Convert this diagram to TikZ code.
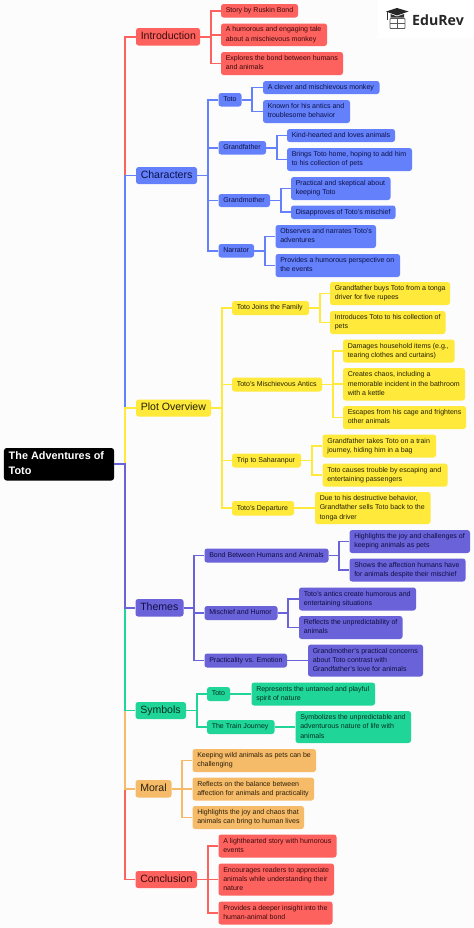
\documentclass[tikz,border=0pt]{standalone}
\usepackage{fontspec}
\setmainfont{Liberation Sans}
\newfontfamily\logofont{Open Sans}
\definecolor{cRed}{HTML}{FD625E}
\definecolor{cBlue}{HTML}{6480FB}
\definecolor{cYel}{HTML}{FFE93B}
\definecolor{cPur}{HTML}{6A62D8}
\definecolor{cGrn}{HTML}{1FD698}
\definecolor{cOra}{HTML}{F6BB68}
\definecolor{tRed}{HTML}{3A0A0C}
\definecolor{tBlue}{HTML}{0C1247}
\definecolor{tYel}{HTML}{222005}
\definecolor{tPur}{HTML}{100E42}
\definecolor{tGrn}{HTML}{042E22}
\definecolor{tOra}{HTML}{2A1F0B}
\tikzset{
  boxbase/.style={rounded corners=2.6bp,inner sep=0pt,anchor=center},
  rootbox/.style={boxbase,fill=black,text=white,font=\bfseries\fontsize{10.9}{15.2}\selectfont},
  catfont/.style={font=\fontsize{10.6}{14}\selectfont},
  subfont/.style={font=\fontsize{7.05}{9.3}\selectfont},
  redbox/.style={boxbase,fill=cRed,text=tRed},
  bluebox/.style={boxbase,fill=cBlue,text=tBlue},
  yelbox/.style={boxbase,fill=cYel,text=tYel},
  purbox/.style={boxbase,fill=cPur,text=tPur},
  grnbox/.style={boxbase,fill=cGrn,text=tGrn},
  orabox/.style={boxbase,fill=cOra,text=tOra},
  link/.style={line width=1.6bp,line join=miter},
}
% name, style, x0, y0, x1, y1, text
\newcommand\bx[7]{%
  \pgfmathsetmacro{\bxcx}{(#3+#5)/2}%
  \pgfmathsetmacro{\bxcy}{(#4+#6)/2}%
  \pgfmathsetmacro{\bxw}{#5-#3}%
  \pgfmathsetmacro{\bxh}{#6-#4}%
  \pgfmathsetmacro{\bxtw}{#5-#3-9.5}%
  \node[#2,minimum width=\bxw bp,minimum height=\bxh bp] (#1) at (\bxcx,\bxcy)
    {\makebox[\bxtw bp][l]{\begin{tabular}{@{}l@{}}#7\end{tabular}}};%
}
\newcommand\lnk[3]{\draw[link,#1] (#2.east) -- ++(10.5,0) |- (#3.west);}
\begin{document}
\begin{tikzpicture}[x=1bp,y=-1bp]
\useasboundingbox (0,0) rectangle (474,928);
\fill[white!99!black] (0,0) rectangle (474,928);
\fill[white] (378,0) rectangle (474,38);
% root
\bx{root}{rootbox}{4}{448}{114}{480.5}{The Adventures of\\Toto}
% categories
\bx{intro}{redbox,catfont}{136}{28}{200}{45.5}{Introduction}
\bx{chars}{bluebox,catfont}{136}{167}{197}{184}{Characters}
\bx{plot}{yelbox,catfont}{136}{399.5}{211}{416.5}{Plot Overview}
\bx{themes}{purbox,catfont}{135.5}{599}{183.5}{616.5}{Themes}
\bx{symb}{grnbox,catfont}{135.5}{702}{186}{719}{Symbols}
\bx{moral}{orabox,catfont}{135.5}{780}{171.5}{797.5}{Moral}
\bx{concl}{redbox,catfont}{135.5}{871}{197}{888}{Conclusion}
% introduction
\bx{i1}{redbox,subfont}{221}{4}{298}{17.5}{Story by Ruskin Bond}
\bx{i2}{redbox,subfont}{221}{23.5}{327}{46}{A humorous and engaging tale\\about a mischievous monkey}
\bx{i3}{redbox,subfont}{221}{52}{343}{75}{Explores the bond between humans\\and animals}
% characters
\bx{ca}{bluebox,subfont}{218.5}{93}{241.5}{106.5}{Toto}
\bx{cb}{bluebox,subfont}{218.5}{141}{266}{154.5}{Grandfather}
\bx{cc}{bluebox,subfont}{218.5}{194}{270}{207}{Grandmother}
\bx{cd}{bluebox,subfont}{218.5}{244}{254}{257.5}{Narrator}
\bx{c1}{bluebox,subfont}{263}{81}{379.5}{94}{A clever and mischievous monkey}
\bx{c2}{bluebox,subfont}{263}{100}{350}{123}{Known for his antics and\\troublesome behavior}
\bx{c3}{bluebox,subfont}{287}{129}{395}{142}{Kind-hearted and loves animals}
\bx{c4}{bluebox,subfont}{287}{148}{412}{171}{Brings Toto home, hoping to add him\\to his collection of pets}
\bx{c5}{bluebox,subfont}{291}{177}{390.5}{200}{Practical and skeptical about\\keeping Toto}
\bx{c6}{bluebox,subfont}{291}{205.5}{395.5}{219}{Disapproves of Toto's mischief}
\bx{c7}{bluebox,subfont}{275.5}{225}{376}{248}{Observes and narrates Toto's\\adventures}
\bx{c8}{bluebox,subfont}{275.5}{254}{400}{277}{Provides a humorous perspective on\\the events}
% plot
\bx{pa}{yelbox,subfont}{232}{301}{309}{315}{Toto Joins the Family}
\bx{pb}{yelbox,subfont}{232}{377.5}{322}{391.5}{Toto's Mischievous Antics}
\bx{pc}{yelbox,subfont}{232}{453.5}{301}{467.5}{Trip to Saharanpur}
\bx{pd}{yelbox,subfont}{232}{501}{294}{515.5}{Toto's Departure}
\bx{p1}{yelbox,subfont}{330}{282}{450}{305}{Grandfather buys Toto from a tonga\\driver for five rupees}
\bx{p2}{yelbox,subfont}{330}{311}{445.5}{334}{Introduces Toto to his collection of\\pets}
\bx{p3}{yelbox,subfont}{343}{339.5}{454.5}{362.5}{Damages household items (e.g.,\\tearing clothes and curtains)}
\bx{p4}{yelbox,subfont}{343}{368}{465}{400.5}{Creates chaos, including a\\memorable incident in the bathroom\\with a kettle}
\bx{p5}{yelbox,subfont}{343}{406}{466}{429}{Escapes from his cage and frightens\\other animals}
\bx{p6}{yelbox,subfont}{322.5}{434.5}{436}{457.5}{Grandfather takes Toto on a train\\journey, hiding him in a bag}
\bx{p7}{yelbox,subfont}{322.5}{463.5}{447.5}{486.5}{Toto causes trouble by escaping and\\entertaining passengers}
\bx{p8}{yelbox,subfont}{315}{492}{430.5}{524}{Due to his destructive behavior,\\Grandfather sells Toto back to the\\tonga driver}
% themes
\bx{ta}{purbox,subfont}{204.5}{548.5}{328.5}{562.5}{Bond Between Humans and Animals}
\bx{tb}{purbox,subfont}{204.5}{606}{277.5}{620}{Mischief and Humor}
\bx{tc}{purbox,subfont}{204.5}{653.5}{287}{667.5}{Practicality vs. Emotion}
\bx{t1}{purbox,subfont}{349.5}{530}{470}{553}{Highlights the joy and challenges of\\keeping animals as pets}
\bx{t2}{purbox,subfont}{349.5}{558.5}{465.5}{581.5}{Shows the affection humans have\\for animals despite their mischief}
\bx{t3}{purbox,subfont}{299}{587.5}{416}{610.5}{Toto's antics create humorous and\\entertaining situations}
\bx{t4}{purbox,subfont}{299}{616}{402.5}{639}{Reflects the unpredictability of\\animals}
\bx{t5}{purbox,subfont}{308}{644.5}{423}{676.5}{Grandmother's practical concerns\\about Toto contrast with\\Grandfather's love for animals}
% symbols
\bx{sa}{grnbox,subfont}{207}{687}{230}{701}{Toto}
\bx{sb}{grnbox,subfont}{207}{720}{274.5}{734}{The Train Journey}
\bx{s1}{grnbox,subfont}{251.5}{682.5}{375}{705.5}{Represents the untamed and playful\\spirit of nature}
\bx{s2}{grnbox,subfont}{295.5}{711}{411}{743}{Symbolizes the unpredictable and\\adventurous nature of life with\\animals}
% moral
\bx{m1}{orabox,subfont}{192.5}{749}{316}{772}{Keeping wild animals as pets can be\\challenging}
\bx{m2}{orabox,subfont}{192.5}{777.5}{314}{800.5}{Reflects on the balance between\\affection for animals and practicality}
\bx{m3}{orabox,subfont}{192.5}{806}{304}{829}{Highlights the joy and chaos that\\animals can bring to human lives}
% conclusion
\bx{n1}{redbox,subfont}{218.5}{834.5}{336.5}{857.5}{A lighthearted story with humorous\\events}
\bx{n2}{redbox,subfont}{218.5}{863.5}{334}{895.5}{Encourages readers to appreciate\\animals while understanding their\\nature}
\bx{n3}{redbox,subfont}{218.5}{901.5}{332.5}{924.5}{Provides a deeper insight into the\\human-animal bond}
% trunk: later paths lie over earlier ones
\lnk{cRed}{root}{intro}
\lnk{cBlue}{root}{chars}
\lnk{cYel}{root}{plot}
\lnk{cRed}{root}{concl}
\lnk{cOra}{root}{moral}
\lnk{cGrn}{root}{symb}
\lnk{cPur}{root}{themes}
% branches
\foreach \c in {i1,i2,i3} {\lnk{cRed}{intro}{\c}}
\foreach \c in {ca,cb,cc,cd} {\lnk{cBlue}{chars}{\c}}
\foreach \c in {c1,c2} {\lnk{cBlue}{ca}{\c}}
\foreach \c in {c3,c4} {\lnk{cBlue}{cb}{\c}}
\foreach \c in {c5,c6} {\lnk{cBlue}{cc}{\c}}
\foreach \c in {c7,c8} {\lnk{cBlue}{cd}{\c}}
\foreach \c in {pa,pb,pc,pd} {\lnk{cYel}{plot}{\c}}
\foreach \c in {p1,p2} {\lnk{cYel}{pa}{\c}}
\foreach \c in {p3,p4,p5} {\lnk{cYel}{pb}{\c}}
\foreach \c in {p6,p7} {\lnk{cYel}{pc}{\c}}
\lnk{cYel}{pd}{p8}
\foreach \c in {ta,tb,tc} {\lnk{cPur}{themes}{\c}}
\foreach \c in {t1,t2} {\lnk{cPur}{ta}{\c}}
\foreach \c in {t3,t4} {\lnk{cPur}{tb}{\c}}
\lnk{cPur}{tc}{t5}
\foreach \c in {sa,sb} {\lnk{cGrn}{symb}{\c}}
\lnk{cGrn}{sa}{s1}
\lnk{cGrn}{sb}{s2}
\foreach \c in {m1,m2,m3} {\lnk{cOra}{moral}{\c}}
\foreach \c in {n1,n2,n3} {\lnk{cRed}{concl}{\c}}
% logo
\node[anchor=west,inner sep=0pt,font=\logofont\bfseries\fontsize{14.2}{16}\selectfont,text=black!85] (logo) at (412,20.5) {EduRev};
\fill[black!85] (397,8) -- (408.5,11.5) -- (397,15.5) -- (386,11.5) -- cycle;
\fill[black!80] (390.5,14) -- (397,16.5) -- (404,14) -- (404,17.5) -- (390.5,17.5) -- cycle;
\draw[black!80,line width=0.8bp] (387,12) -- (387,20);
\draw[black!65,line width=0.9bp,rounded corners=0.8bp] (390,18.5) rectangle (405,28.5);
\draw[black!65,line width=0.8bp] (397.5,19) -- (397.5,28) (390,23) -- (405,23);
\end{tikzpicture}
\end{document}
